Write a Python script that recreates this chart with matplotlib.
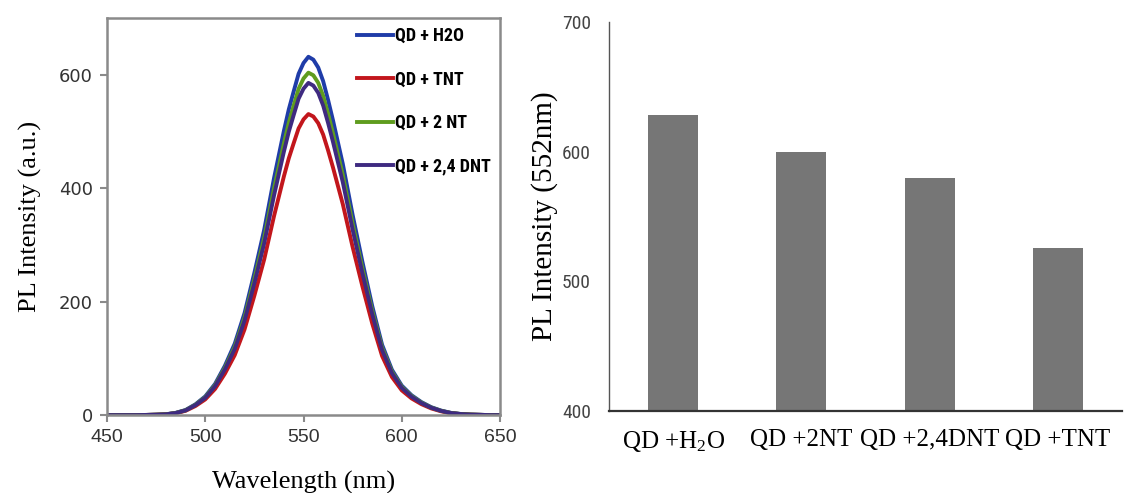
import matplotlib
matplotlib.use("Agg")
import matplotlib.pyplot as plt
from matplotlib import font_manager

# ------------------------------------------------------------------------------

# Data

wavelength = [450, 455, 460, 465, 470, 475, 480, 485, 490, 495,
              500, 505, 510, 515, 520, 525, 530, 535, 540, 542.5,
              545, 547.5, 550, 552.5, 555, 557.5, 560, 562.5, 565, 570,
              575, 580, 585, 590, 595, 600, 605, 610, 615, 620,
              625, 630, 635, 640, 645, 650]

pl_h2o = [0, 0, 0, 0, 0.3, 0.8, 1.5, 4.0, 9.0, 19.0,
          33.0, 55.0, 87.0, 126.0, 180.0, 251.0, 327.0, 418.0, 501.0, 539.0,
          571.0, 602.0, 621.0, 632.0, 627.0, 613.0, 589.0, 556.0, 520.0, 443.0,
          353.0, 270.0, 192.0, 124.0, 80.0, 52.0, 35.0, 23.0, 14.0, 8.0,
          4.0, 2.0, 1.0, 0.5, 0, 0]

pl_tnt = [0, 0, 0, 0, 0.3, 0.7, 1.3, 3.4, 7.6, 16.0,
          27.7, 46.2, 73.1, 105.8, 151.2, 210.8, 274.7, 351.1, 420.8, 452.8,
          479.6, 505.7, 521.6, 531.0, 526.7, 514.9, 494.8, 467.0, 436.8, 372.1,
          296.5, 226.8, 161.3, 104.2, 67.2, 43.7, 29.4, 19.3, 11.8, 6.7,
          3.4, 1.7, 0.8, 0.4, 0, 0]

pl_2nt = [0, 0, 0, 0, 0.3, 0.8, 1.4, 3.8, 8.6, 18.2,
          31.5, 52.6, 83.2, 120.4, 172.1, 240.0, 312.6, 399.6, 479.0, 515.3,
          545.9, 575.5, 593.7, 604.0, 599.4, 586.0, 563.1, 531.5, 497.1, 423.5,
          337.5, 258.1, 183.6, 118.5, 76.5, 49.7, 33.5, 22.0, 13.4, 7.6,
          3.8, 1.9, 1.0, 0.5, 0, 0]

pl_24dnt = [0, 0, 0, 0, 0.3, 0.7, 1.4, 3.7, 8.3, 17.6,
            30.6, 51.0, 80.7, 116.8, 166.9, 232.7, 303.2, 387.5, 464.4, 499.7,
            529.3, 558.1, 575.7, 586.0, 581.2, 568.3, 546.0, 515.4, 482.0, 410.7,
            327.2, 250.3, 178.0, 114.9, 74.2, 48.2, 32.4, 21.3, 13.0, 7.4,
            3.7, 1.9, 0.9, 0.5, 0, 0]

spectra_labels = ["QD + H2O", "QD + TNT", "QD + 2 NT", "QD + 2,4 DNT"]
spectra_colors = ["#1f3ca8", "#c2161c", "#5f9c1e", "#3e2a80"]

bar_labels = ["QD +H$_2$O", "QD +2NT", "QD +2,4DNT", "QD +TNT"]
bar_values = [628, 600, 580, 526]


# ------------------------------------------------------------------------------

def pick_font(*names):
    installed = {f.name for f in font_manager.fontManager.ttflist}
    for name in names:
        if name in installed:
            return name
    return "DejaVu Sans"


narrow = pick_font("Liberation Sans Narrow", "Roboto Condensed", "DejaVu Sans")
serif = pick_font("Liberation Serif", "DejaVu Serif")

plt.rcParams["mathtext.fontset"] = "custom"
plt.rcParams["mathtext.rm"] = serif
plt.rcParams["mathtext.it"] = serif

fig = plt.figure(figsize=(11.31, 4.93), dpi=100)

# Left: PL spectra
ax1 = fig.add_axes([0.0946, 0.158, 0.3475, 0.805])
for values, lab, col in zip([pl_h2o, pl_tnt, pl_2nt, pl_24dnt],
                            spectra_labels, spectra_colors):
    ax1.plot(wavelength, values, color=col, lw=2.8, label=lab,
             solid_joinstyle="round")

ax1.set_xlim(450, 650)
ax1.set_ylim(0, 700)
ax1.set_xticks([450, 500, 550, 600, 650])
ax1.set_yticks([0, 200, 400, 600])
for s in ax1.spines.values():
    s.set_color("#8a8a8a")
    s.set_linewidth(1.8)
ax1.tick_params(axis="both", direction="out", color="#8a8a8a", width=1.5, length=5)
ax1.tick_params(axis="y", labelsize=13, labelcolor="#333333", pad=5)
ax1.tick_params(axis="x", labelsize=14, labelcolor="#333333", pad=5)
for t in ax1.get_xticklabels():
    t.set_fontfamily("Liberation Sans")
ax1.set_xlabel("Wavelength (nm)", family=serif, fontsize=19, labelpad=18)
ax1.set_ylabel("PL Intensity (a.u.)", family=serif, fontsize=19, labelpad=12)

ax1.legend(loc="upper right", bbox_to_anchor=(1.0, 1.0), frameon=False,
           handlelength=2.0, handletextpad=0.1, labelspacing=1.4,
           borderaxespad=0.1, borderpad=0.4,
           prop={"family": narrow, "weight": "bold", "size": 13})

# Right: intensity at 552 nm
ax2 = fig.add_axes([0.5385, 0.1663, 0.4536, 0.789])
ax2.bar(range(len(bar_values)), bar_values, width=0.39, color="#767676")
ax2.set_xlim(-0.5, 3.5)
ax2.set_ylim(400, 700)
ax2.set_yticks([400, 500, 600, 700])
ax2.set_xticks(range(len(bar_labels)))
ax2.set_xticklabels(bar_labels, family=serif, fontsize=18)
ax2.spines["top"].set_visible(False)
ax2.spines["right"].set_visible(False)
ax2.spines["left"].set_color("#555555")
ax2.spines["left"].set_linewidth(1.0)
ax2.spines["bottom"].set_color("#333333")
ax2.spines["bottom"].set_linewidth(1.6)
ax2.tick_params(axis="both", length=0)
ax2.tick_params(axis="x", pad=13)
ax2.tick_params(axis="y", pad=13, labelsize=14, labelcolor="#444444")
for t in ax2.get_yticklabels():
    t.set_fontfamily(narrow)
ax2.set_ylabel("PL Intensity (552nm)", family=serif, fontsize=21, labelpad=3)

fig.savefig("out.png", dpi=100, facecolor="w", edgecolor="w")
